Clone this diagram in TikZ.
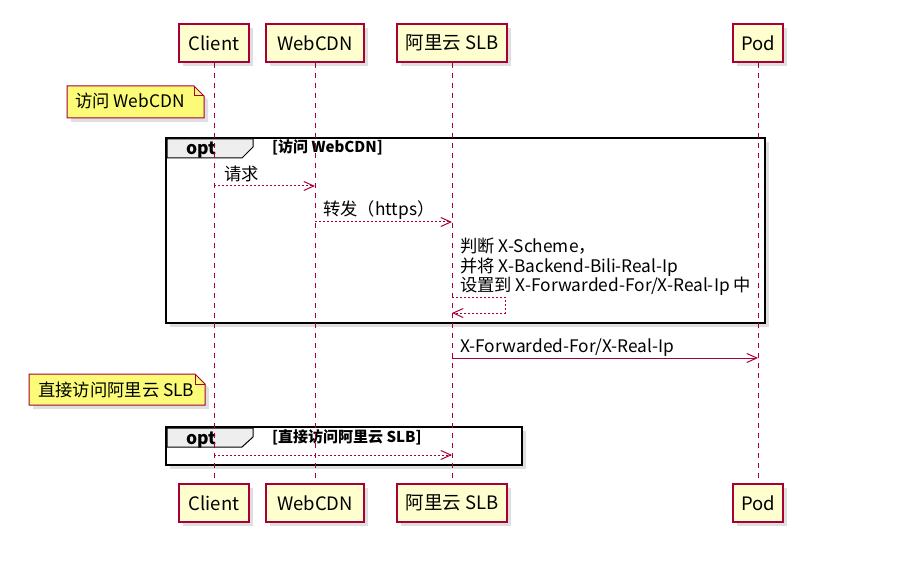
\documentclass[tikz,border=0pt]{standalone}
\usepackage{fontspec}
\setmainfont{Noto Sans CJK SC}
\usetikzlibrary{arrows.meta,shadows}
\definecolor{umlred}{HTML}{A80036}
\definecolor{umlbox}{HTML}{FEFECE}
\definecolor{umlnote}{HTML}{FBFB77}
\definecolor{umlhead}{HTML}{EEEEEE}

\begin{document}
\begin{tikzpicture}[x = 1pt, y = -1pt,
                        actor/.style = {draw = umlred, fill = umlbox, line width = 1.5pt, minimum height = 38pt, inner sep = 0pt,
                                        font = \fontsize{18.5}{20}\selectfont,
                                        drop shadow = {shadow xshift = 4pt, shadow yshift = -4pt, opacity = 0.25}},
                        life/.style = {draw = umlred, line width = 1pt, dash pattern = on 5pt off 5pt},
                        msg/.style = {draw = umlred, line width = 1pt, -{Straight Barb[length = 10pt, width = 9pt]}},
                        reply/.style = {msg, dash pattern = on 2pt off 2pt},
                        lbl/.style = {anchor = base west, inner sep = 0pt, font = \fontsize{17.3}{19.5}\selectfont},
                        note/.style = {draw = umlred, fill = umlnote, line width = 1pt,
                                       drop shadow = {shadow xshift = 4pt, shadow yshift = -4pt, opacity = 0.25}},
                        frame/.style = {draw = black, fill = white, line width = 2pt,
                                        drop shadow = {shadow xshift = 4pt, shadow yshift = -4pt, opacity = 0.25}},
                        tab/.style = {draw = black, fill = umlhead, line width = 1pt},
                        kind/.style = {anchor = base, inner sep = 0pt, font = \fontsize{17.5}{19}\selectfont\bfseries},
                        guard/.style = {anchor = base west, inner sep = 0pt, font = \fontsize{15}{17}\selectfont\bfseries}]
    \useasboundingbox (0, 0) rectangle (909, 569);

    % frames
    \draw [frame] (166, 138) rectangle (765, 323);
    \draw [tab] (167, 139) -- (253, 139) -- (253, 147) -- (242, 158) -- (167, 158) -- cycle;
    \node [kind] (opt1) at (201, 155){opt};
    \node [guard] (cond1) at (272, 153){[访问 WebCDN]};

    \draw [frame] (166, 427) rectangle (522, 465);
    \draw [tab] (167, 428) -- (253, 428) -- (253, 437) -- (242, 447) -- (167, 447) -- cycle;
    \node [kind] (opt2) at (201, 444){opt};
    \node [guard] (cond2) at (272, 442){[直接访问阿里云 SLB]};

    % participants
    \node [actor, minimum width = 70pt] (cl) at (214, 43){Client};
    \node [actor, minimum width = 98pt] (cdn) at (315, 43){WebCDN};
    \node [actor, minimum width = 110pt] (slb) at (452, 43){阿里云 SLB};
    \node [actor, minimum width = 50pt] (pod) at (758, 43){Pod};
    \node [actor, minimum width = 70pt] (cl2) at (214, 503){Client};
    \node [actor, minimum width = 98pt] (cdn2) at (315, 503){WebCDN};
    \node [actor, minimum width = 110pt] (slb2) at (452, 503){阿里云 SLB};
    \node [actor, minimum width = 50pt] (pod2) at (758, 503){Pod};

    \draw [life] (cl) -- (cl2);
    \draw [life] (cdn) -- (cdn2);
    \draw [life] (slb) -- (slb2);
    \draw [life] (pod) -- (pod2);

    % notes
    \draw [note] (67, 86) -- (194, 86) -- (204, 96) -- (204, 118) -- (67, 118) -- cycle;
    \draw [draw = umlred, line width = 1pt] (194, 86) -- (194, 96) -- (204, 96);
    \node [lbl] (note1) at (75, 108){访问 WebCDN};
    \draw [note] (29, 374) -- (195, 374) -- (205, 384) -- (205, 405) -- (29, 405) -- cycle;
    \draw [draw = umlred, line width = 1pt] (195, 374) -- (195, 384) -- (205, 384);
    \node [lbl] (note2) at (38, 396){直接访问阿里云 SLB};

    % messages
    \coordinate (m1a) at (214, 186);
    \coordinate (m1b) at (315, 186);
    \coordinate (m2a) at (315, 222);
    \coordinate (m2b) at (452, 222);
    \coordinate (m3a) at (452, 297);
    \coordinate (m3b) at (452, 313);
    \coordinate (m4a) at (452, 358);
    \coordinate (m4b) at (758, 358);
    \coordinate (m5a) at (214, 455);
    \coordinate (m5b) at (452, 455);

    \draw [reply] (m1a) -- (m1b);
    \node [lbl] (req) at (224, 181){请求};
    \draw [reply] (m2a) -- (m2b);
    \node [lbl] (fwd) at (323, 216){转发（https）};
    \draw [reply] (m3a) -- (505, 297) -- (505, 313) -- (m3b);
    \node [lbl] (chk1) at (460, 252){判断 X-Scheme，};
    \node [lbl] (chk2) at (460, 272){并将 X-Backend-Bili-Real-Ip};
    \node [lbl] (chk3) at (460, 291){设置到 X-Forwarded-For/X-Real-Ip 中};
    \draw [msg] (m4a) -- (m4b);
    \node [lbl] (xff) at (460, 352){X-Forwarded-For/X-Real-Ip};
    \draw [reply] (m5a) -- (m5b);
  \end{tikzpicture}
\end{document}
